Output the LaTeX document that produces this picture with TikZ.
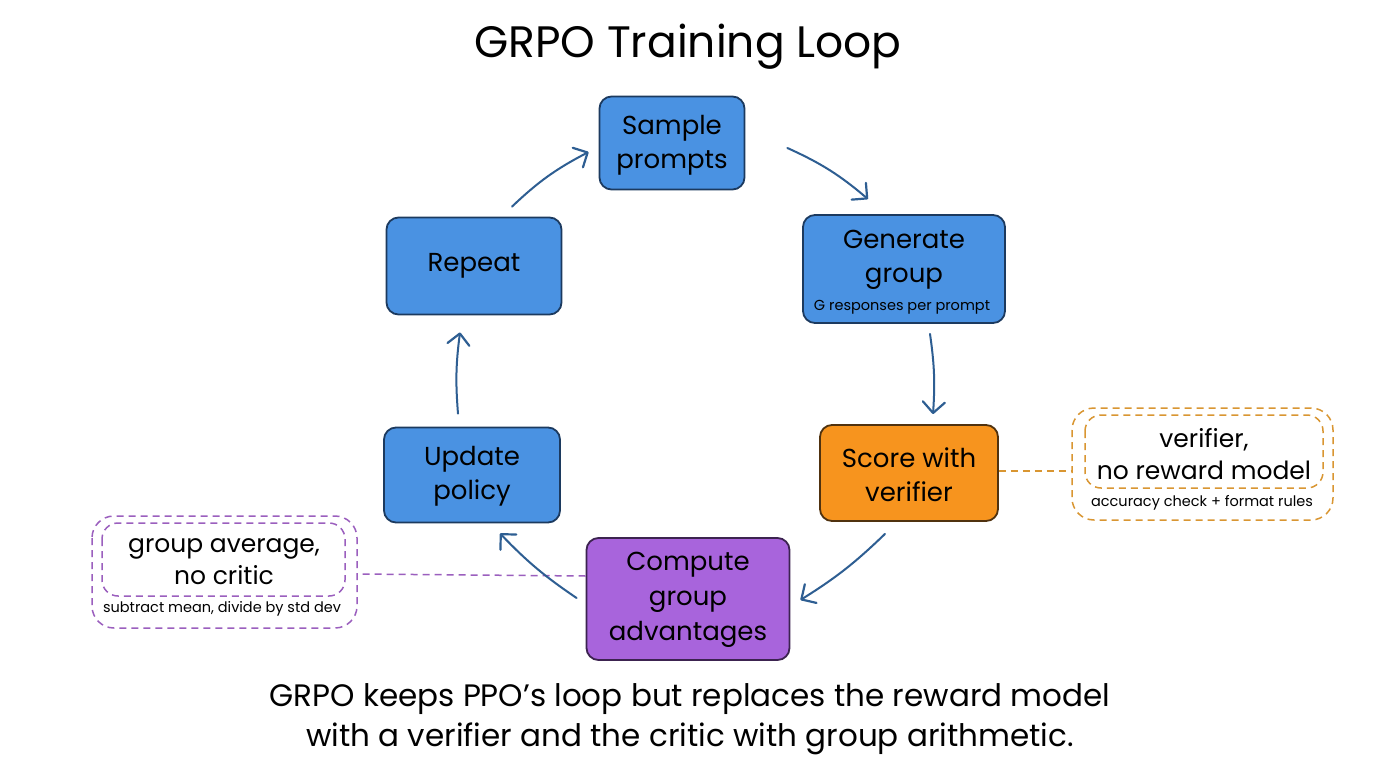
\documentclass[tikz,border=0pt]{standalone}
\usepackage{fontspec}
\setmainfont{Poppins}
\usetikzlibrary{arrows.meta}
\definecolor{bfill}{RGB}{74,146,226}
\definecolor{bdraw}{RGB}{28,58,95}
\definecolor{ofill}{RGB}{247,148,30}
\definecolor{odraw}{RGB}{80,50,15}
\definecolor{pfill}{RGB}{168,100,220}
\definecolor{pdraw}{RGB}{60,35,80}
\definecolor{arr}{RGB}{46,94,146}
\definecolor{odash}{RGB}{217,150,50}
\definecolor{pdash}{RGB}{155,95,190}
\tikzset{
  box/.style={rounded corners=12pt, line width=1.8pt, align=center, inner sep=0pt,
    font=\fontsize{26}{34}\selectfont},
  bbox/.style={box, fill=bfill, draw=bdraw},
  obox/.style={box, fill=ofill, draw=odraw},
  pbox/.style={box, fill=pfill, draw=pdraw},
  flow/.style={arr, line width=2pt, line cap=round,
    -{Straight Barb[length=11pt,width=22pt,line width=2.2pt,round]}},
  odashed/.style={odash, line width=1.5pt, dash pattern=on 7pt off 5pt},
  pdashed/.style={pdash, line width=1.5pt, dash pattern=on 7pt off 5pt},
  small/.style={font=\fontsize{14.5}{17}\selectfont},
  notetext/.style={font=\fontsize{25}{32}\selectfont, align=center},
}
\begin{document}
\begin{tikzpicture}[x=1pt,y=-1pt]
\useasboundingbox (0,0) rectangle (1376,768);
\fill[white] (0,0) rectangle (1376,768);

\node[font=\fontsize{44}{50}\selectfont] (title) at (688,47) {GRPO Training Loop};

\node[bbox, minimum width=145pt, minimum height=93pt] (s) at (672,143) {};
\node[font=\fontsize{26}{34}\selectfont, align=center] (st) at (672,145) {Sample\\prompts};
\node[bbox, minimum width=202pt, minimum height=108pt] (g) at (904,269) {};
\node[font=\fontsize{26}{34}\selectfont, align=center] (gt) at (904,260) {Generate\\group};
\node[small] (gs) at (902,307) {G responses per prompt};
\node[bbox, minimum width=175pt, minimum height=97pt] (r) at (474,266) {Repeat};
\node[obox, minimum width=178pt, minimum height=96pt] (sc) at (909,473) {};
\node[font=\fontsize{26}{34}\selectfont, align=center] (sct) at (909,475) {Score with\\verifier};
\node[bbox, minimum width=176pt, minimum height=95pt] (u) at (472,475) {};
\node[font=\fontsize{26}{34}\selectfont, align=center] (ut) at (472,476) {Update\\policy};
\node[pbox, minimum width=203pt, minimum height=122pt] (c) at (688,599) {};
\node[font=\fontsize{26}{35}\selectfont, align=center] (ct) at (688,600) {Compute\\group\\advantages};

% orange note
\draw[odashed, rounded corners=22pt] (1072,408) rectangle (1333,520);
\draw[odashed, rounded corners=16pt] (1085,415) rectangle (1323,488);
\node[notetext] (on) at (1204,454) {verifier,\\no reward model};
\node[small] (os) at (1202,503) {accuracy check + format rules};
\coordinate (oL) at (1072,471);

% purple note
\draw[pdashed, rounded corners=22pt] (92,516) rectangle (357,628);
\draw[pdashed, rounded corners=16pt] (102,523) rectangle (345,596);
\node[notetext] (pn) at (224,562) {group average,\\no critic};
\node[small] (ps) at (222,609) {subtract mean, divide by std dev};
\coordinate (pR) at (357,574);

% dashed connectors
\draw[odashed] ([yshift=2pt]sc.east) -- (oL);
\draw[pdashed] ([yshift=23pt]c.west) -- (pR);

% flow arrows
\draw[flow] ([shift={(42,5)}]s.east) to[bend left=8] ([shift={(-36,-15)}]g.north);
\draw[flow] ([shift={(26,10)}]g.south) to[bend left=6] ([shift={(24,-10)}]sc.north);
\draw[flow] ([shift={(-24,12)}]sc.south) to[bend left=6] ([shift={(10,1)}]c.east);
\draw[flow] ([shift={(-9,-1)}]c.west) to[bend left=6] ([shift={(28,10)}]u.south);
\draw[flow] ([shift={(-14,-13)}]u.north) to[bend left=6] ([shift={(-14,17)}]r.south);
\draw[flow] ([shift={(38,-10)}]r.north) to[bend left=8] ([shift={(-10,9)}]s.west);

% caption
\node[font=\fontsize{31}{40}\selectfont, align=center] (cap) at (690,719) {GRPO keeps PPO's loop but replaces the reward model\\with a verifier and the critic with group arithmetic.};
\end{tikzpicture}
\end{document}
